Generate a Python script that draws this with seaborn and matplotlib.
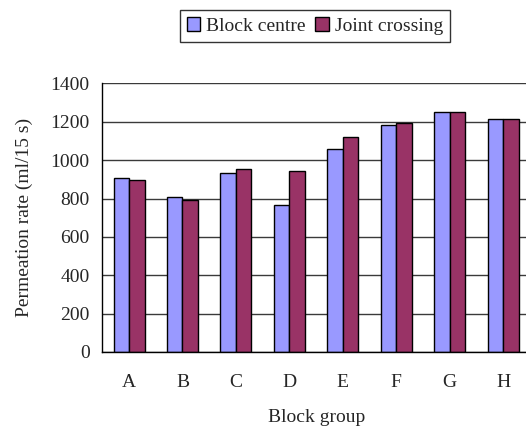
import matplotlib
matplotlib.use("Agg")
import matplotlib.pyplot as plt
from matplotlib.ticker import FixedLocator
from matplotlib.patches import Patch
import seaborn as sns
import pandas as pd

groups = ["A", "B", "C", "D", "E", "F", "G", "H"]
block_centre = [908, 810, 935, 767, 1060, 1182, 1253, 1215]
joint_crossing = [898, 790, 955, 945, 1119, 1192, 1253, 1215]
series_names = ["Block centre", "Joint crossing"]
colors = ["#9999FF", "#993366"]

df = pd.DataFrame({
    "group": groups * 2,
    "rate": block_centre + joint_crossing,
    "location": [series_names[0]] * len(groups) + [series_names[1]] * len(groups),
})

sns.set_style("white")
plt.rcParams["font.family"] = ["Liberation Serif", "DejaVu Serif"]
fs = 14

fig = plt.figure(figsize=(5.26, 4.30), dpi=100)
ax = fig.add_axes([0.1945, 0.1814, 0.813, 0.6246])

sns.barplot(data=df, x="group", y="rate", hue="location", order=groups,
            hue_order=series_names, palette=colors, saturation=1, width=0.58,
            edgecolor="black", linewidth=1.0, ax=ax, legend=False)

ax.set_xlim(-0.5, 7.5)
ax.set_ylim(0, 1400)
ax.set_yticks(range(0, 1401, 200))
ax.yaxis.grid(True, color="#3a3a3a", linewidth=1.0)
ax.set_axisbelow(True)

for side in ["top", "right"]:
    ax.spines[side].set_visible(False)
for side in ["left", "bottom"]:
    ax.spines[side].set_color("black")
    ax.spines[side].set_linewidth(1.0)

ax.tick_params(axis="y", direction="out", length=6, width=1, color="black",
               labelsize=fs, pad=3)
ax.tick_params(axis="x", which="major", length=0, labelsize=fs, pad=16)
ax.xaxis.set_minor_locator(FixedLocator([i + 0.5 for i in range(-1, 8)]))
ax.tick_params(axis="x", which="minor", direction="in", length=4, width=1,
               color="black")

ax.set_xlabel("Block group", fontsize=fs, labelpad=13)
ax.set_ylabel("Permeation rate (ml/15 s)", fontsize=fs, labelpad=13)

handles = [Patch(facecolor=c, edgecolor="black", linewidth=1.0) for c in colors]
leg = fig.legend(handles, series_names, loc="center",
                 bbox_to_anchor=(315 / 526, 1 - 26 / 430), ncol=2,
                 fontsize=fs, frameon=True, fancybox=False,
                 handlelength=0.7, handleheight=0.7, handletextpad=0.3,
                 columnspacing=0.5, borderpad=0.35, edgecolor="black")
leg.get_frame().set_linewidth(1.0)

fig.savefig("out.png", dpi=100)
